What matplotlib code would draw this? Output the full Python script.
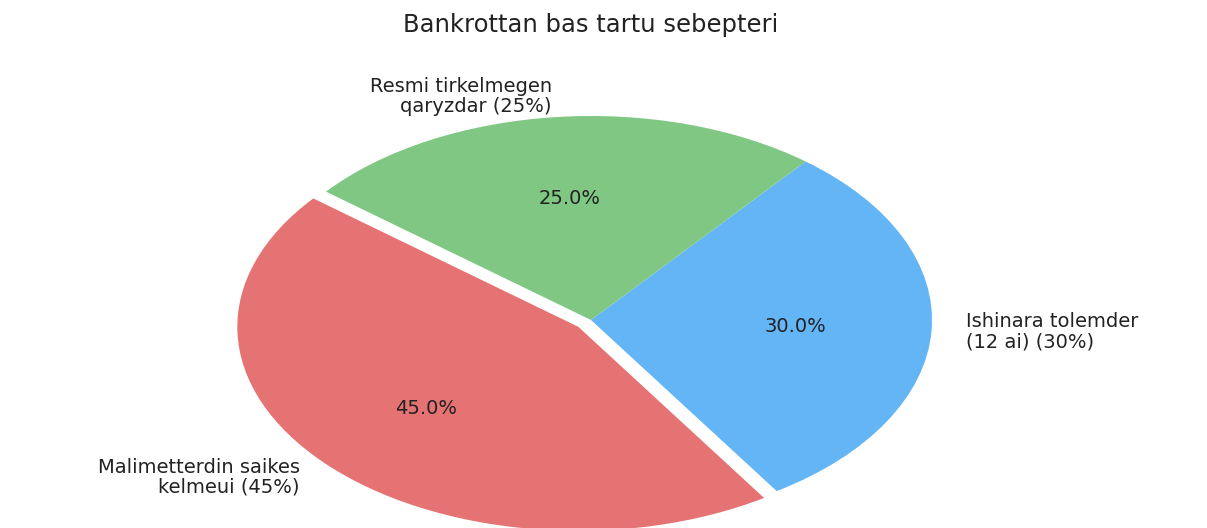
import matplotlib
matplotlib.use("Agg")
import matplotlib.pyplot as plt

categories = ["Malimetterdin saikes\nkelmeui (45%)",
              "Ishinara tolemder\n(12 ai) (30%)",
              "Resmi tirkelmegen\nqaryzdar (25%)"]
values = [45, 30, 25]
colors = ["#e57373", "#64b5f6", "#81c784"]
explode = [0.05, 0, 0]
title = "Bankrottan bas tartu sebepteri"

plt.rcParams['font.family'] = ['DejaVu Sans']
W, H = 1207, 528
fig = plt.figure(figsize=(W / 100, H / 100), dpi=100)

# pie centre (591, 320) px, radii 341 px (x) and 204 px (y)
cx, cy, rx, ry = 591, 320, 341, 204
lim = 1.1
ax = fig.add_axes([(cx - lim * rx) / W, (H - cy - lim * ry) / H,
                   2 * lim * rx / W, 2 * lim * ry / H])
wedges, texts, autotexts = ax.pie(values, labels=categories, colors=colors,
                                  explode=explode, startangle=141,
                                  autopct='%1.1f%%', pctdistance=0.6,
                                  labeldistance=1.1,
                                  textprops=dict(fontsize=14, color='#222222'))
for w in wedges:
    w.set_clip_on(False)
for t in texts:
    t.set_clip_on(False)
    t.set_linespacing(1.05)
ax.set_aspect('auto')
ax.set_xlim(-lim, lim)
ax.set_ylim(-lim, lim)
ax.axis('off')

fig.text(cx / W, 1 - 25 / H, title, ha='center', va='center',
         fontsize=17.5, color='#222222')

fig.savefig("out.png", dpi=100)
